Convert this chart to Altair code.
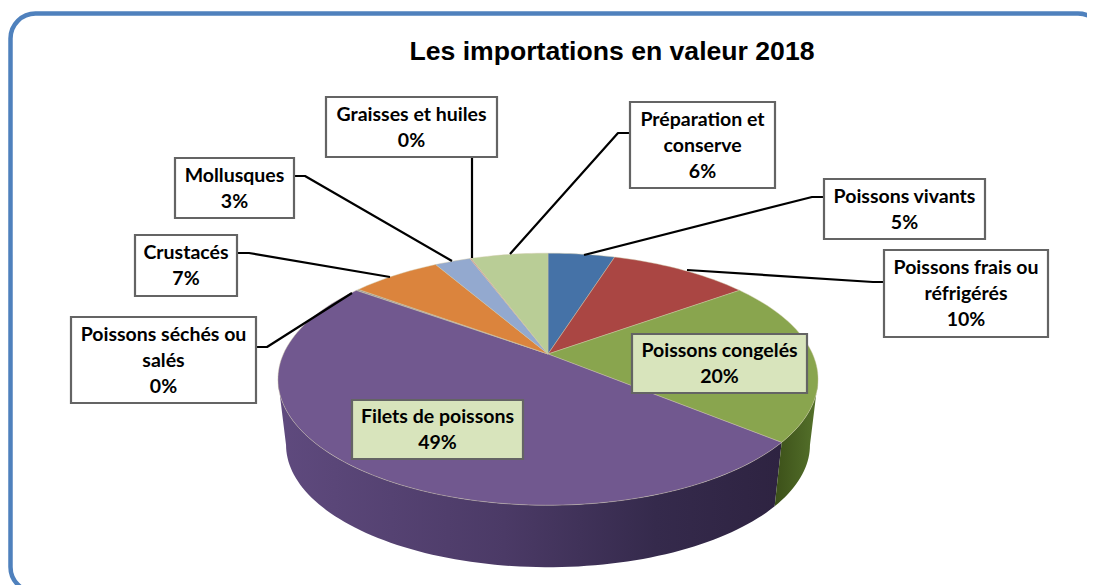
import math
import altair as alt
import pandas as pd

# ---- chart values -------------------------------------------------------
names = ["Poissons vivants", "Poissons frais ou\nréfrigérés", "Poissons congelés",
         "Filets de poissons", "Poissons séchés ou\nsalés", "Crustacés", "Mollusques",
         "Graisses et huiles", "Préparation et\nconserve"]
percent_labels = [5, 10, 20, 49, 0, 7, 3, 0, 6]
shares = [4.85, 10.15, 21.0, 49.0, 0.2, 6.5, 2.6, 0.1, 5.6]
colours = ["#4572A7", "#AA4643", "#89A54E", "#71588F", "#9a9a9a",
           "#DB843D", "#93A9CF", "#D19392", "#B9CD96"]

# ---- layout -------------------------------------------------------------
box_x0 = [824, 884, 632, 352, 71, 135, 175, 326, 630]
box_x1 = [985, 1048, 807, 523, 256, 237, 294, 497, 775]
box_y0 = [179, 250, 334, 400, 317, 235, 158, 97, 102]
box_y1 = [239, 337, 393, 459, 403, 296, 218, 157, 188]
box_fill = ["#ffffff", "#ffffff", "#d8e4bc", "#d8e4bc", "#ffffff",
            "#ffffff", "#ffffff", "#ffffff", "#ffffff"]
leader_paths = {
    "vivants": [(824, 197), (812, 197), (584, 255)],
    "frais": [(884, 282), (873, 282), (687, 270)],
    "sechés": [(256, 347), (267, 347), (352, 293)],
    "crustacés": [(237, 253), (249, 253), (390, 277)],
    "mollusques": [(294, 176), (305, 176), (452, 261)],
    "graisses": [(472, 157), (472, 258)],
    "préparation": [(630, 133), (618, 133), (510, 254)],
}
CX, CY, K_X, K_Y, PERSP = 548, 354, 264.6, 121, 0.2
WALL_DROP, WALL_SCALE = 66.5, 0.97
SIDE_ANGLE = math.degrees(math.acos(-PERSP))
LINE = 26


def top(deg):
    t = math.radians(deg)
    d = 1 + PERSP * math.cos(t)
    return [CX + K_X * math.sin(t) / d, CY - K_Y * math.cos(t) / d]


def bottom(deg):
    t = math.radians(deg)
    d = 1 + PERSP * math.cos(t)
    return [CX + WALL_SCALE * K_X * math.sin(t) / d,
            CY + WALL_DROP - WALL_SCALE * K_Y * math.cos(t) / d]


def angles(a, b, step=1.5):
    n = max(2, int(abs(b - a) / step) + 2)
    return [a + (b - a) * i / (n - 1) for i in range(n)]


def geo(features):
    return alt.Data(values={"type": "FeatureCollection", "features": features},
                    format=alt.DataFormat(property="features"))


def poly(points, **props):
    return {"type": "Feature", "properties": props,
            "geometry": {"type": "Polygon", "coordinates": [points + [points[0]]]}}


# top face: one sector per share
features = []
cum = 0.0
for share, colour in zip(shares, colours):
    a, b = cum * 3.6, (cum + share) * 3.6
    features.append(poly([[CX, CY]] + [top(d) for d in angles(a, b)], colour=colour))
    cum += share


def wall(a, b):
    ang = angles(a, b)
    return [poly([top(d) for d in ang] + [bottom(d) for d in reversed(ang)])]


start_purple = sum(shares[:3]) * 3.6
projection = dict(type="identity", scale=1, translate=[-8, -8])

purple_wall = alt.Chart(geo(wall(start_purple, 360 - SIDE_ANGLE))).mark_geoshape(
    strokeWidth=0,
    fill=alt.Gradient(gradient="linear", x1=0, x2=1, y1=0, y2=0, stops=[
        alt.GradientStop(offset=0, color="#5f4a7e"),
        alt.GradientStop(offset=0.45, color="#4b3a66"),
        alt.GradientStop(offset=0.75, color="#352a4c"),
        alt.GradientStop(offset=1, color="#2e2341"),
    ]),
).project(**projection)
green_wall = alt.Chart(geo(wall(SIDE_ANGLE, start_purple))).mark_geoshape(
    strokeWidth=0,
    fill=alt.Gradient(gradient="linear", x1=0, x2=1, y1=0, y2=0, stops=[
        alt.GradientStop(offset=0, color="#3c5019"),
        alt.GradientStop(offset=1, color="#55722b"),
    ]),
).project(**projection)
top_face = alt.Chart(geo(features)).mark_geoshape(
    strokeWidth=0.8, stroke="#cfc8a8", strokeOpacity=0.55
).encode(fill=alt.Fill("properties.colour:N", scale=None)).project(**projection)

x_scale = alt.Scale(domain=[8, 1087], range=[0, 1079])
y_scale = alt.Scale(domain=[8, 585], range=[0, 577])
X = alt.X("x:Q", scale=x_scale, axis=None)
Y = alt.Y("y:Q", scale=y_scale, axis=None)

frame = alt.Chart(pd.DataFrame({"x": [10.5], "x2": [1103], "y": [13.5], "y2": [592]})).mark_rect(
    fill="#ffffff", stroke="#4f81bd", strokeWidth=4.5, cornerRadius=25
).encode(X, Y, x2="x2:Q", y2="y2:Q")

leader_rows = [{"id": k, "i": i, "x": p[0], "y": p[1]}
               for k, path in leader_paths.items() for i, p in enumerate(path)]
leaders = alt.Chart(pd.DataFrame(leader_rows)).mark_line(
    color="#000000", strokeWidth=2.2, strokeJoin="round"
).encode(X, Y, detail="id:N", order="i:Q")

box_labels = [f"{n}\n{p}%" for n, p in zip(names, percent_labels)]
box_df = pd.DataFrame({
    "x": box_x0, "x2": box_x1, "y": box_y0, "y2": box_y1, "fill": box_fill,
    "xc": [(a + b) / 2 for a, b in zip(box_x0, box_x1)],
    # vertical anchor of the first line of a centred block of lines
    "yc": [(a + b) / 2 - LINE / 2 * t.count("\n") + 0.5
           for a, b, t in zip(box_y0, box_y1, box_labels)],
    "label": box_labels,
})
boxes = alt.Chart(box_df).mark_rect(stroke="#646464", strokeWidth=2.2).encode(
    X, Y, x2="x2:Q", y2="y2:Q", fill=alt.Fill("fill:N", scale=None))
labels = alt.Chart(box_df).mark_text(
    font="Lato", fontWeight="bold", fontSize=19.5, lineBreak="\n", lineHeight=LINE,
    align="center", baseline="middle", color="#000000"
).encode(alt.X("xc:Q", scale=x_scale, axis=None), alt.Y("yc:Q", scale=y_scale, axis=None),
         text="label:N")
title = alt.Chart(pd.DataFrame({"x": [612], "y": [52], "t": ["Les importations en valeur 2018"]})).mark_text(
    font="Liberation Sans", fontWeight="bold", fontSize=26.6, align="center",
    baseline="middle", color="#000000"
).encode(X, Y, text="t:N")

chart = alt.layer(frame, purple_wall, green_wall, top_face, leaders, boxes, labels, title).properties(
    width=1079, height=577, padding=0,
    autosize=alt.AutoSizeParams(type="none"),
).configure_view(stroke=None)

chart.save("out.html", embed_options={"renderer": "svg", "actions": False})
